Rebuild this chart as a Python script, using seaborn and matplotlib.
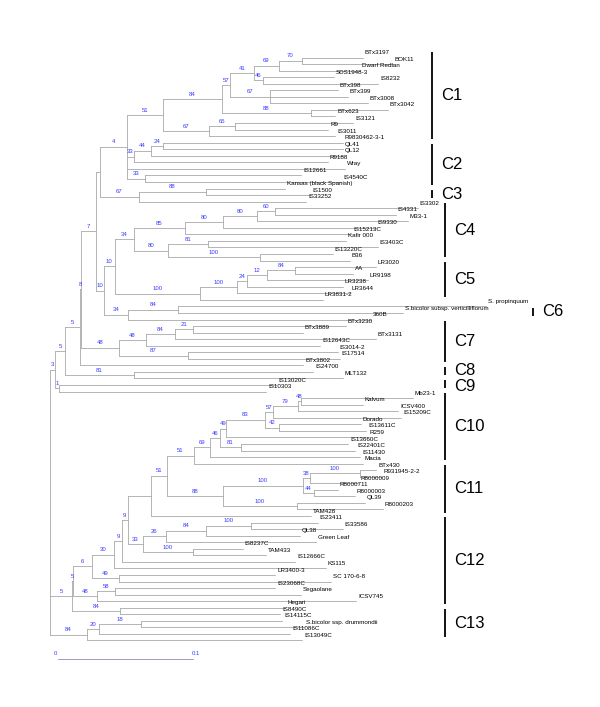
import numpy as np
import pandas as pd
import matplotlib
matplotlib.use("Agg")
import matplotlib.pyplot as plt
import seaborn as sns

# Internal nodes of the tree: name, parent, branch length, bootstrap support
node_names = ["root", "N1", "N2", "N3", "n8", "n7", "nB", "nA", "n51", "n84", "n57", "n41", "n69",
              "n70", "n46", "n67", "n88", "n67b", "n65", "n33a", "n44", "n24", "n33b", "n67c",
              "n88c", "P1", "n10", "n34c", "n85", "n80b", "n80a", "n60", "n80c", "n81", "n100a",
              "n100c", "n100b", "n24b", "n12", "n84b", "n34d", "n84c", "n48b", "n48a", "n84d",
              "n21", "n87", "n81c", "n1", "n5b", "n5c", "n6", "n30", "n9b", "n9a", "nX", "n51c",
              "n51b", "n69b", "n46b", "n49", "n83", "n57b", "n79", "n48c", "n42", "n81b", "n88b",
              "n100e", "n38", "n100d", "n44b", "n100f", "n33", "n26", "n84e", "n100g", "n100h",
              "n49c", "n48d", "n58", "n84f", "n84g", "n20", "n18"]
node_parents = [None, "root", "N1", "N2", "N3", "n8", "n7", "nB", "nA", "n51", "n84", "n57", "n41",
                "n69", "n41", "n57", "n84", "n51", "n67b", "nA", "n33a", "n44", "nA", "nB",
                "n67c", "n7", "P1", "n10", "n34c", "n85", "n80b", "n80a", "n34c", "n80c", "n80c",
                "n10", "n100c", "n100b", "n24b", "n12", "P1", "n34d", "n8", "n48b", "n48a",
                "n84d", "n48b", "N2", "N1", "root", "n5b", "n5c", "n6", "n30", "n9b", "n9a", "nX",
                "n51c", "n51b", "n69b", "n46b", "n49", "n83", "n57b", "n79", "n83", "n46b", "n51c",
                "n88b", "n100e", "n38", "n100e", "n88b", "n9a", "n33", "n26", "n84e", "n33",
                "n6", "n5c", "n48d", "n5b", "root", "n84g", "n20"]
node_lengths = [0.0, 0.0037, 0.0074, 0.0111, 0.0007, 0.0111, 0.0030, 0.0200, 0.0267, 0.0437,
                0.0059, 0.0178, 0.0185, 0.0170, 0.0067, 0.0296, 0.0659, 0.0341, 0.0193, 0.0052,
                0.0126, 0.0089, 0.0133, 0.0289, 0.0496, 0.0059, 0.0081, 0.0141, 0.0378, 0.0281,
                0.0252, 0.0133, 0.0252, 0.0296, 0.0681, 0.0630, 0.0274, 0.0074, 0.0148, 0.0207,
                0.0178, 0.0370, 0.0281, 0.0200, 0.0215, 0.0133, 0.0511, 0.0511, 0.0030, 0.0163,
                0.0007, 0.0141, 0.0163, 0.0059, 0.0044, 0.0170, 0.0119, 0.0200, 0.0119, 0.0074,
                0.0044, 0.0289, 0.0059, 0.0185, 0.0022, 0.0104, 0.0156, 0.0415, 0.0593, 0.0052,
                0.0370, 0.0081, 0.0548, 0.0111, 0.0170, 0.0296, 0.0333, 0.0370, 0.0200, 0.0178,
                0.0133, 0.0356, 0.0274, 0.0089, 0.0311]
node_support = [None, 3, 5, 5, 8, 7, None, 4, 51, 84, 57, 41, 69, 70, 46, 67, 88, 67, 65, 33, 44,
                24, 33, 67, 88, 10, 10, 34, 85, 80, 80, 60, 80, 81, 100, 100, 100, 24, 12, 84, 34,
                84, 48, 48, 84, 21, 87, 81, 1, 5, 5, 6, 30, 9, 9, None, 51, 51, 69, 46, 49, 83, 57,
                79, 48, 42, 81, 88, 100, 38, 100, 44, 100, 33, 26, 84, 100, 100, 49, 48, 58, 84,
                84, 20, 18]

# Leaves, top to bottom
leaf_names = ["BTx3197", "BOK11", "Dwarf Redlan", "SDS1948-3", "IS8232", "BTx398", "BTx399",
              "BTx3008", "BTx3042", "BTx623", "IS3121", "R9", "IS3011", "R9830462-3-1", "QL41",
              "QL12", "R9188", "Wray", "IS12661", "IS4540C", "Kansas (black Spanish)", "IS1500",
              "IS33252", "IS3302", "IS4331", "M33-1", "IS9330", "IS15213C", "Kafir 000",
              "IS3403C", "IS13220C", "B36", "LR3020", "AA", "LR9198", "LR3238", "LR3644",
              "LR3831-2", "S. propinquum", "S.bicolor subsp. verticilliflorum", "360B",
              "BTx3230", "BTx3889", "BTx3131", "IS12643C", "IS3014-2", "IS17514", "BTx3802",
              "IS24700", "MLT132", "IS13020C", "IS10303", "Mb23-1", "Kalvum", "ICSV400",
              "IS15209C", "Dorado", "IS13611C", "R259", "IS13660C", "IS22401C", "IS11430",
              "Macia", "BTx430", "R931945-2-2", "R8000009", "R8000711", "R8000003", "QL39",
              "R8000203", "TAM428", "IS23411", "IS33586", "QL38", "Green Leaf", "IS8237C",
              "TAM433", "IS12666C", "KS115", "LR3400-3", "SC 170-6-8", "IS23068C", "Segaolane",
              "ICSV745", "Hegari", "IS8490C", "IS14115C", "S.bicolor ssp. drummondii",
              "IS11086C", "IS13049C"]
leaf_parents = ["n70", "n70", "n69", "n46", "n46", "n67", "n67", "n67", "n88", "n88", "n65",
                "n65", "n67b", "n24", "n24", "n44", "n33a", "nA", "n33b", "n33b", "n88c", "n88c",
                "n67c", "n60", "n60", "n80a", "n80b", "n85", "n81", "n81", "n100a", "n100a",
                "n84b", "n84b", "n12", "n24b", "n100b", "n100c", "n84c", "n84c", "n34d", "n21",
                "n21", "n84d", "n48a", "n87", "n87", "N3", "n81c", "n81c", "n1", "n1", "n48c",
                "n48c", "n79", "n57b", "n42", "n42", "n49", "n81b", "n81b", "n69b", "n51b",
                "n100d", "n100d", "n38", "n44b", "n44b", "n100f", "n100f", "nX", "n100g", "n100g",
                "n84e", "n26", "n100h", "n100h", "n9b", "n30", "n49c", "n49c", "n58", "n58",
                "n48d", "n84f", "n84f", "n18", "n18", "n20", "n84g"]
leaf_lengths = [0.0452, 0.0674, 0.0600, 0.0526, 0.0852, 0.0504, 0.0578, 0.0726, 0.0570, 0.0178,
                0.0874, 0.0689, 0.0933, 0.1333, 0.1333, 0.1422, 0.1437, 0.1615, 0.1156, 0.1452,
                0.0585, 0.0770, 0.1237, 0.1059, 0.0896, 0.1119, 0.1133, 0.1230, 0.1022, 0.1259,
                0.0541, 0.0667, 0.0600, 0.0430, 0.0748, 0.0711, 0.0837, 0.0911, 0.2281, 0.1667,
                0.1800, 0.1133, 0.0815, 0.1489, 0.1289, 0.1111, 0.1126, 0.1652, 0.1326, 0.1548,
                0.1607, 0.1533, 0.0830, 0.0459, 0.0741, 0.0948, 0.0607, 0.0644, 0.1052, 0.0793,
                0.0844, 0.1111, 0.1252, 0.0119, 0.0156, 0.0356, 0.0178, 0.0304, 0.0504, 0.0637,
                0.1185, 0.0496, 0.0681, 0.0696, 0.1111, 0.0370, 0.0541, 0.1281, 0.1570, 0.1156,
                0.1570, 0.1185, 0.1378, 0.1919, 0.1222, 0.1185, 0.1044, 0.1207, 0.1415, 0.1593]

# Clade groups (first and last leaf in each group)
clade_names = ["C1", "C2", "C3", "C4", "C5", "C6", "C7", "C8", "C9", "C10", "C11", "C12", "C13"]
clade_first = ["BTx3197", "QL41", "IS1500", "IS3302", "LR3020", "S.bicolor subsp. verticilliflorum",
               "BTx3230", "IS24700", "IS13020C", "Mb23-1", "BTx430", "IS23411", "IS8490C"]
clade_last = ["R9830462-3-1", "Kansas (black Spanish)", "IS33252", "B36", "LR3831-2", "360B",
              "BTx3802", "MLT132", "IS10303", "Macia", "TAM428", "Hegari", "IS13049C"]

# ---- layout of the tree ----
parent = dict(zip(node_names, node_parents))
parent.update(dict(zip(leaf_names, leaf_parents)))
length = dict(zip(node_names, node_lengths))
length.update(dict(zip(leaf_names, leaf_lengths)))
support = dict(zip(node_names, node_support))

children = {n: [] for n in node_names}
for n in node_names[1:] + leaf_names:
    children[parent[n]].append(n)

depth = {}
def get_depth(n):
    if n not in depth:
        depth[n] = 0.0 if parent[n] is None else get_depth(parent[n]) + length[n]
    return depth[n]

ypos = {name: i for i, name in enumerate(leaf_names)}
def get_y(n):
    if n not in ypos:
        ys = [get_y(c) for c in children[n]]
        ypos[n] = (min(ys) + max(ys)) / 2
    return ypos[n]

for n in node_names + leaf_names:
    get_depth(n)
    get_y(n)

segs = []
k = 0
for n in node_names[1:] + leaf_names:
    p = parent[n]
    segs += [(k, depth[p], ypos[n]), (k, depth[n], ypos[n])]
    k += 1
for n in node_names:
    ys = [ypos[c] for c in children[n]]
    segs += [(k, depth[n], min(ys)), (k, depth[n], max(ys))]
    k += 1
seg_df = pd.DataFrame(segs, columns=["seg", "x", "y"])

# ---- drawing ----
sns.set_theme(style="white")
plt.rcParams["font.family"] = ["Liberation Sans", "DejaVu Sans"]

fig = plt.figure(figsize=(6.0, 7.07), dpi=100)
ax = fig.add_axes([0, 0, 1, 1])

sns.lineplot(data=seg_df, x="x", y="y", units="seg", estimator=None, sort=False,
             color="#a8a8a8", linewidth=0.6, ax=ax)

for n in leaf_names:
    ax.text(depth[n] + 0.0015, ypos[n] - 0.75, n, fontsize=4.5, color="black",
            ha="left", va="center")

for n in node_names[1:]:
    s = support[n]
    if s is None:
        continue
    xm = (depth[parent[n]] + depth[n]) / 2
    ax.text(xm, ypos[n] - 0.75, str(s), fontsize=4.3, color="#3b3bff",
            ha="center", va="center")

# clade bars on the right; labels kept at least ~2.3 leaf rows apart
last_label_y = -99
for name, first, last in zip(clade_names, clade_first, clade_last):
    if name in ("C1", "C2", "C3"):
        bx = 0.283
    elif name == "C6":
        bx = 0.358
    else:
        bx = 0.2926
    y0 = ypos[first] - 0.8
    y1 = ypos[last] - 0.5
    ax.plot([bx, bx], [y0, y1], color="black", linewidth=1.3, solid_capstyle="butt")
    ly = max((y0 + y1) / 2, last_label_y + 2.4)
    last_label_y = ly
    ax.text(bx + 0.0065, ly, name, fontsize=12, color="black", ha="left", va="center")

# scale bar 0 - 0.1
sb_y = len(leaf_names) + 1.8
ax.plot([0.0059, 0.1059], [sb_y, sb_y], color="#9a9ac8", linewidth=0.7)
ax.text(0.0059 - 0.002, sb_y - 0.8, "0", fontsize=4.3, color="#3b3bff", ha="center", va="center")
ax.text(0.1059 + 0.002, sb_y - 0.8, "0.1", fontsize=4.3, color="#3b3bff", ha="center", va="center")

ax.set_xlim(-50 / 1350, 550 / 1350)
ax.set_ylim(99.16, -8.78)
ax.set_axis_off()
ax.set_xlabel("")
ax.set_ylabel("")
if ax.get_legend() is not None:
    ax.get_legend().remove()

fig.savefig("out.png", dpi=100, facecolor="white")
